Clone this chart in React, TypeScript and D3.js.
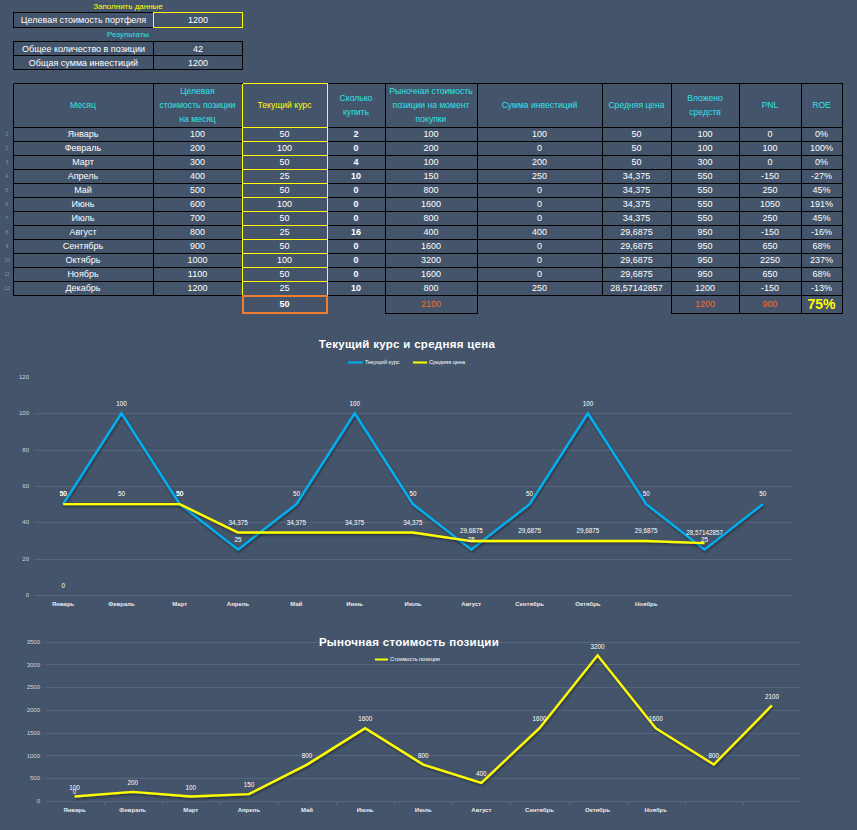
import React from "react";
import * as d3 from "d3";

const months = ["Январь", "Февраль", "Март", "Апрель", "Май", "Июнь", "Июль", "Август", "Сентябрь", "Октябрь", "Ноябрь", "Декабрь"];
const targetValue = [100, 200, 300, 400, 500, 600, 700, 800, 900, 1000, 1100, 1200];
const currentPrice = [50, 100, 50, 25, 50, 100, 50, 25, 50, 100, 50, 25];
const buyQty = [2, 0, 4, 10, 0, 0, 0, 16, 0, 0, 0, 10];
const marketValue = [100, 200, 100, 150, 800, 1600, 800, 400, 1600, 3200, 1600, 800];
const investSum = [100, 0, 200, 250, 0, 0, 0, 400, 0, 0, 0, 250];
const avgPrice = [50, 50, 50, 34.375, 34.375, 34.375, 34.375, 29.6875, 29.6875, 29.6875, 29.6875, 28.57142857];
const invested = [100, 100, 300, 550, 550, 550, 550, 950, 950, 950, 950, 1200];
const pnl = [0, 100, 0, -150, 250, 1050, 250, -150, 650, 2250, 650, -150];
const roe = [0, 100, 0, -27, 45, 191, 45, -16, 68, 237, 68, -13];
const totalPrice = 50;
const totalMarket = 2100;
const totalInvested = 1200;
const totalPnl = 900;
const totalRoe = 75;
const portfolioTarget = 1200;
const totalQty = 42;
const totalInvestSum = 1200;

const chartCategories = ["Январь", "Февраль", "Март", "Апрель", "Май", "Июнь", "Июль", "Август", "Сентябрь", "Октябрь", "Ноябрь", "", ""];
const priceSeries = [...currentPrice, totalPrice];
const avgSeries = avgPrice;
const marketSeries = [...marketValue, totalMarket];
const zeroSeries = [0];
const priceTicks = [0, 20, 40, 60, 80, 100, 120];
const marketTicks = [0, 500, 1000, 1500, 2000, 2500, 3000, 3500];

const headers = [
  ["Месяц"],
  ["Целевая", "стоимость позиции", "на месяц"],
  ["Текущий курс"],
  ["Сколько", "купить"],
  ["Рыночная стоимость", "позиции на момент", "покупки"],
  ["Сумма инвестиций"],
  ["Средняя цена"],
  ["Вложено", "средств"],
  ["PNL"],
  ["ROE"],
];

const BG = "#44546a";
const GRID = "#56667e";
const CYAN = "#2fe3e8";
const YEL = "#ffff00";
const ORANGE = "#ff6a1a";
const BLUE = "#00b0f0";
const F = "'Liberation Sans', Arial, sans-serif";
const fmt = (v: number) => String(v).replace(".", ",");

const colX = [13, 153, 242, 327, 385, 477, 602, 671, 739, 801, 842];
const headTop = 83;
const headBot = 127;
const rowH = 14;
const p = (v: number) => Math.round(v) + 0.5;

function Table() {
  const rows = months.map((m, i) => [
    m,
    String(targetValue[i]),
    String(currentPrice[i]),
    String(buyQty[i]),
    String(marketValue[i]),
    String(investSum[i]),
    fmt(avgPrice[i]),
    String(invested[i]),
    String(pnl[i]),
    roe[i] + "%",
  ]);
  const bottom = headBot + rowH * rows.length;
  const els: any[] = [];
  headers.forEach((lines, c) => {
    const cx = (colX[c] + colX[c + 1]) / 2;
    const mid = (headTop + headBot) / 2;
    lines.forEach((t, k) => {
      const y = mid + (k - (lines.length - 1) / 2) * 14;
      els.push(
        <text key={`h${c}-${k}`} x={cx} y={y} dy="0.35em" textAnchor="middle" fontSize={8.6} fill={c === 2 ? YEL : CYAN} fontFamily={F}>
          {t}
        </text>
      );
    });
  });
  rows.forEach((r, i) => {
    const cy = headBot + rowH * i + rowH / 2;
    els.push(
      <text key={`n${i}`} x={7} y={cy} dy="0.35em" textAnchor="middle" fontSize={5} fill="#8794a6" fontFamily={F}>
        {i + 1}
      </text>
    );
    r.forEach((t, c) => {
      els.push(
        <text key={`c${i}-${c}`} x={(colX[c] + colX[c + 1]) / 2} y={cy} dy="0.35em" textAnchor="middle" fontSize={9} fontWeight={c === 3 ? "bold" : "normal"} fill="#ffffff" fontFamily={F}>
          {t}
        </text>
      );
    });
  });
  const lines: any[] = [];
  const hys = [headTop, headBot, ...rows.map((_, i) => headBot + rowH * (i + 1))];
  hys.forEach((y, k) => lines.push(<line key={`hl${k}`} x1={p(colX[0])} x2={p(colX[colX.length - 1])} y1={p(y)} y2={p(y)} stroke="#000" strokeWidth={1} />));
  colX.forEach((x, k) => lines.push(<line key={`vl${k}`} x1={p(x)} x2={p(x)} y1={p(headTop)} y2={p(bottom)} stroke="#000" strokeWidth={1} />));
  const ycol: any[] = [];
  hys.forEach((y, k) => ycol.push(<line key={`yh${k}`} x1={p(colX[2])} x2={p(colX[3])} y1={p(y)} y2={p(y)} stroke={YEL} strokeWidth={1} />));
  ycol.push(<line key="yv1" x1={p(colX[2])} x2={p(colX[2])} y1={p(headTop)} y2={p(bottom)} stroke={YEL} strokeWidth={1} />);
  ycol.push(<line key="yv2" x1={p(colX[3])} x2={p(colX[3])} y1={p(headTop)} y2={p(bottom)} stroke={YEL} strokeWidth={1} />);
  const tTop = bottom;
  const tBot = bottom + 18;
  const tcy = (tTop + tBot) / 2;
  const totals = (
    <g>
      <rect x={colX[2] + 1} y={tTop + 1} width={colX[3] - colX[2] - 1} height={tBot - tTop - 1} fill="none" stroke="#ed7d31" strokeWidth={2} />
      <text x={(colX[2] + colX[3]) / 2} y={tcy} dy="0.35em" textAnchor="middle" fontSize={9} fontWeight="bold" fill="#fff" fontFamily={F}>{totalPrice}</text>
      <rect x={p(colX[4])} y={p(tTop)} width={colX[5] - colX[4]} height={tBot - tTop} fill="none" stroke="#000" strokeWidth={1} />
      <text x={(colX[4] + colX[5]) / 2} y={tcy} dy="0.35em" textAnchor="middle" fontSize={9} fill={ORANGE} fontFamily={F}>{totalMarket}</text>
      <rect x={p(colX[7])} y={p(tTop)} width={colX[10] - colX[7]} height={tBot - tTop} fill="none" stroke="#000" strokeWidth={1} />
      <line x1={p(colX[8])} x2={p(colX[8])} y1={tTop} y2={tBot} stroke="#000" strokeWidth={1} />
      <line x1={p(colX[9])} x2={p(colX[9])} y1={tTop} y2={tBot} stroke="#000" strokeWidth={1} />
      <text x={(colX[7] + colX[8]) / 2} y={tcy} dy="0.35em" textAnchor="middle" fontSize={9} fill={ORANGE} fontFamily={F}>{totalInvested}</text>
      <text x={(colX[8] + colX[9]) / 2} y={tcy} dy="0.35em" textAnchor="middle" fontSize={9} fill={ORANGE} fontFamily={F}>{totalPnl}</text>
      <text x={(colX[9] + colX[10]) / 2} y={tcy} dy="0.38em" textAnchor="middle" fontSize={14} fontWeight="bold" fill={YEL} fontFamily={F}>{totalRoe + "%"}</text>
    </g>
  );
  return (
    <g shapeRendering="crispEdges">
      {lines}
      {ycol}
      <g shapeRendering="auto">{els}</g>
      {totals}
    </g>
  );
}

function TopBlock() {
  const l = 13.5, m = 153.5, r = 242.5;
  return (
    <g fontFamily={F}>
      <text x={128} y={6.5} dy="0.35em" textAnchor="middle" fontSize={8} fill={YEL}>Заполнить данные</text>
      <rect x={l} y={12.5} width={r - l} height={15} fill="none" stroke="#000" strokeWidth={1} shapeRendering="crispEdges" />
      <rect x={m} y={12.5} width={r - m} height={15} fill="none" stroke={YEL} strokeWidth={1} shapeRendering="crispEdges" />
      <text x={(l + m) / 2} y={20} dy="0.35em" textAnchor="middle" fontSize={9} fill="#fff">Целевая стоимость портфеля</text>
      <text x={(m + r) / 2} y={20} dy="0.35em" textAnchor="middle" fontSize={9} fill="#fff">{portfolioTarget}</text>
      <text x={128} y={34.5} dy="0.35em" textAnchor="middle" fontSize={8} fill={CYAN}>Результаты</text>
      <rect x={l} y={41.5} width={r - l} height={28} fill="none" stroke="#000" strokeWidth={1} shapeRendering="crispEdges" />
      <line x1={l} x2={r} y1={55.5} y2={55.5} stroke="#000" strokeWidth={1} shapeRendering="crispEdges" />
      <line x1={m} x2={m} y1={41.5} y2={69.5} stroke="#000" strokeWidth={1} shapeRendering="crispEdges" />
      <text x={(l + m) / 2} y={48.5} dy="0.35em" textAnchor="middle" fontSize={9} fill="#fff">Общее количество в позиции</text>
      <text x={(m + r) / 2} y={48.5} dy="0.35em" textAnchor="middle" fontSize={9} fill="#fff">{totalQty}</text>
      <text x={(l + m) / 2} y={62.5} dy="0.35em" textAnchor="middle" fontSize={9} fill="#fff">Общая сумма инвестиций</text>
      <text x={(m + r) / 2} y={62.5} dy="0.35em" textAnchor="middle" fontSize={9} fill="#fff">{totalInvestSum}</text>
    </g>
  );
}

function PriceChart() {
  const x = d3.scaleBand<number>().domain(d3.range(chartCategories.length)).range([34, 792]);
  const cx = (i: number) => (x(i) as number) + x.bandwidth() / 2;
  const y = d3.scaleLinear().domain([0, 120]).range([595, 377]);
  const line = d3.line<number>().x((_, i) => cx(i)).y((d) => y(d));
  const lbl = { fontSize: 6.3, fill: "#fff", fontFamily: F, textAnchor: "middle" as const };
  return (
    <g>
      <text x={407} y={344} dy="0.35em" textAnchor="middle" fontSize={11.5} fontWeight="bold" fill="#fff" fontFamily={F} letterSpacing={0.3}>Текущий курс и средняя цена</text>
      <line x1={348} x2={363} y1={362.5} y2={362.5} stroke={BLUE} strokeWidth={2} />
      <text x={365} y={362.5} dy="0.35em" fontSize={5.5} fill="#fff" fontFamily={F}>Текущий курс</text>
      <line x1={413} x2={427} y1={362.5} y2={362.5} stroke={YEL} strokeWidth={2} />
      <text x={429} y={362.5} dy="0.35em" fontSize={5.5} fill="#fff" fontFamily={F}>Средняя цена</text>
      {priceTicks.map((t) => (
        <g key={t}>
          {t < 120 && <line x1={34} x2={792} y1={p(y(t))} y2={p(y(t))} stroke={GRID} strokeWidth={1} />}
          <text x={29} y={y(t)} dy="0.35em" textAnchor="end" fontSize={6} fill="#d0d5dc" fontFamily={F}>{t}</text>
        </g>
      ))}
      {chartCategories.map((c, i) => (
        <text key={i} x={cx(i)} y={604} dy="0.35em" textAnchor="middle" fontSize={6} fontWeight="bold" fill="#e8ebef" fontFamily={F}>{c}</text>
      ))}
      <path d={line(priceSeries) as string} fill="none" stroke={BLUE} strokeWidth={2.4} filter="url(#sh)" strokeLinejoin="miter" />
      <path d={line(avgSeries) as string} fill="none" stroke={YEL} strokeWidth={2.4} filter="url(#sh)" />
      {priceSeries.map((v, i) => (
        <text key={"p" + i} x={cx(i)} y={y(v) - 10} dy="0.35em" {...lbl}>{fmt(v)}</text>
      ))}
      {avgSeries.map((v, i) => (
        <text key={"a" + i} x={cx(i)} y={y(v) - 10} dy="0.35em" {...lbl}>{fmt(v)}</text>
      ))}
      {zeroSeries.map((v, i) => (
        <text key={"z" + i} x={cx(i)} y={y(v) - 9} dy="0.35em" {...lbl}>{v}</text>
      ))}
    </g>
  );
}

function MarketChart() {
  const x = d3.scaleBand<number>().domain(d3.range(chartCategories.length)).range([45.5, 801]);
  const cx = (i: number) => (x(i) as number) + x.bandwidth() / 2;
  const y = d3.scaleLinear().domain([0, 3500]).range([801, 641.7]);
  const line = d3.line<number>().x((_, i) => cx(i)).y((d) => y(d));
  const lbl = { fontSize: 6.3, fill: "#fff", fontFamily: F, textAnchor: "middle" as const };
  return (
    <g>
      {marketTicks.map((t) => (
        <g key={t}>
          <line x1={45.5} x2={801} y1={p(y(t))} y2={p(y(t))} stroke={GRID} strokeWidth={1} />
          <text x={40} y={y(t)} dy="0.35em" textAnchor="end" fontSize={6} fill="#d0d5dc" fontFamily={F}>{t}</text>
        </g>
      ))}
      {d3.range(1, chartCategories.length).map((i) => (
        <line key={"tk" + i} x1={p(x(i) as number)} x2={p(x(i) as number)} y1={801} y2={805} stroke={GRID} strokeWidth={1} />
      ))}
      <text x={409} y={642} dy="0.35em" textAnchor="middle" fontSize={11.5} fontWeight="bold" fill="#fff" fontFamily={F} letterSpacing={0.3}>Рыночная стоимость позиции</text>
      <line x1={375} x2={388} y1={659.5} y2={659.5} stroke={YEL} strokeWidth={2} />
      <text x={390} y={659.5} dy="0.35em" fontSize={5.5} fill="#fff" fontFamily={F}>Стоимость позиции</text>
      {chartCategories.map((c, i) => (
        <text key={i} x={cx(i)} y={810} dy="0.35em" textAnchor="middle" fontSize={6} fontWeight="bold" fill="#e8ebef" fontFamily={F}>{c}</text>
      ))}
      <path d={line(marketSeries) as string} fill="none" stroke={YEL} strokeWidth={2.4} filter="url(#sh)" />
      {marketSeries.map((v, i) => (
        <text key={"m" + i} x={cx(i)} y={y(v) - 9} dy="0.35em" {...lbl}>{v}</text>
      ))}
      {zeroSeries.map((v, i) => (
        <text key={"z" + i} x={cx(i)} y={y(v) - 9} dy="0.35em" {...lbl}>{v}</text>
      ))}
    </g>
  );
}

export default function App() {
  return (
    <svg width={857} height={830} style={{ position: "absolute", left: 0, top: 0, display: "block" }}>
      <defs>
        <filter id="sh" x="-5%" y="-20%" width="110%" height="140%">
          <feDropShadow dx={0.8} dy={1.5} stdDeviation={0.8} floodColor="#000" floodOpacity={0.45} />
        </filter>
      </defs>
      <rect x={0} y={0} width={857} height={830} fill={BG} />
      <TopBlock />
      <Table />
      <PriceChart />
      <MarketChart />
    </svg>
  );
}
